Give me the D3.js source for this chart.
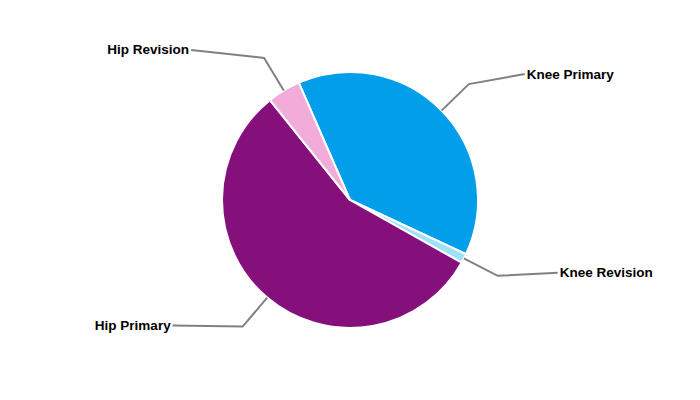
<!DOCTYPE html>
<html><head><meta charset="utf-8">
<script src="https://cdn.jsdelivr.net/npm/d3@7"></script>
<style>body{margin:0;background:#fff}</style>
</head><body>
<svg id="c" width="700" height="400"></svg>
<script>
const categories = ["Knee Primary", "Knee Revision", "Hip Primary", "Hip Revision"];
const values = [38.5, 1.2, 56.1, 4.2];
const colors = ["#029EEA", "#9EE2FA", "#86107B", "#F1ACDA"];

// label connector layout (horizontal run, vertical rise) per category
const labelRun = {"Knee Primary": 56, "Knee Revision": 60, "Hip Primary": 70, "Hip Revision": 73};
const labelRise = {"Knee Primary": -10, "Knee Revision": -3, "Hip Primary": -1, "Hip Revision": -8};

const cx = 350, cy = 200, R = 128;
const svg = d3.select("#c");
const g = svg.append("g").attr("transform", `translate(${cx},${cy})`);

const start = -23.6 * Math.PI / 180;
const pie = d3.pie().sort(null).value(d => d.v).startAngle(start).endAngle(start + 2 * Math.PI);
const data = pie(categories.map((c, i) => ({c, v: values[i], col: colors[i]})));
const arc = d3.arc().innerRadius(0).outerRadius(R);

g.selectAll("path.s").data(data).join("path")
  .attr("class", "s")
  .attr("d", arc)
  .attr("fill", d => d.data.col)
  .attr("stroke", "#fff").attr("stroke-width", 2).attr("stroke-linejoin", "round");

const pt = (a, r) => [Math.sin(a) * r, -Math.cos(a) * r];
data.forEach(d => {
  const mid = (d.startAngle + d.endAngle) / 2;
  const p0 = pt(mid, R);
  const p1 = pt(mid, R + 38);
  const right = p1[0] > 0;
  const run = labelRun[d.data.c], rise = labelRise[d.data.c];
  const p2 = [p1[0] + (right ? run : -run), p1[1] + rise];
  g.append("polyline")
    .attr("points", [p0, p1, p2].map(p => p.join(",")).join(" "))
    .attr("fill", "none").attr("stroke", "#808080").attr("stroke-width", 2);
  g.append("text")
    .attr("x", p2[0] + (right ? 2 : -2)).attr("y", p2[1] + 4.5)
    .attr("text-anchor", right ? "start" : "end")
    .attr("font-family", "Liberation Sans, Arial, sans-serif")
    .attr("font-weight", "bold").attr("font-size", 13.5)
    .attr("fill", "#000")
    .text(d.data.c);
});
</script>
</body></html>
